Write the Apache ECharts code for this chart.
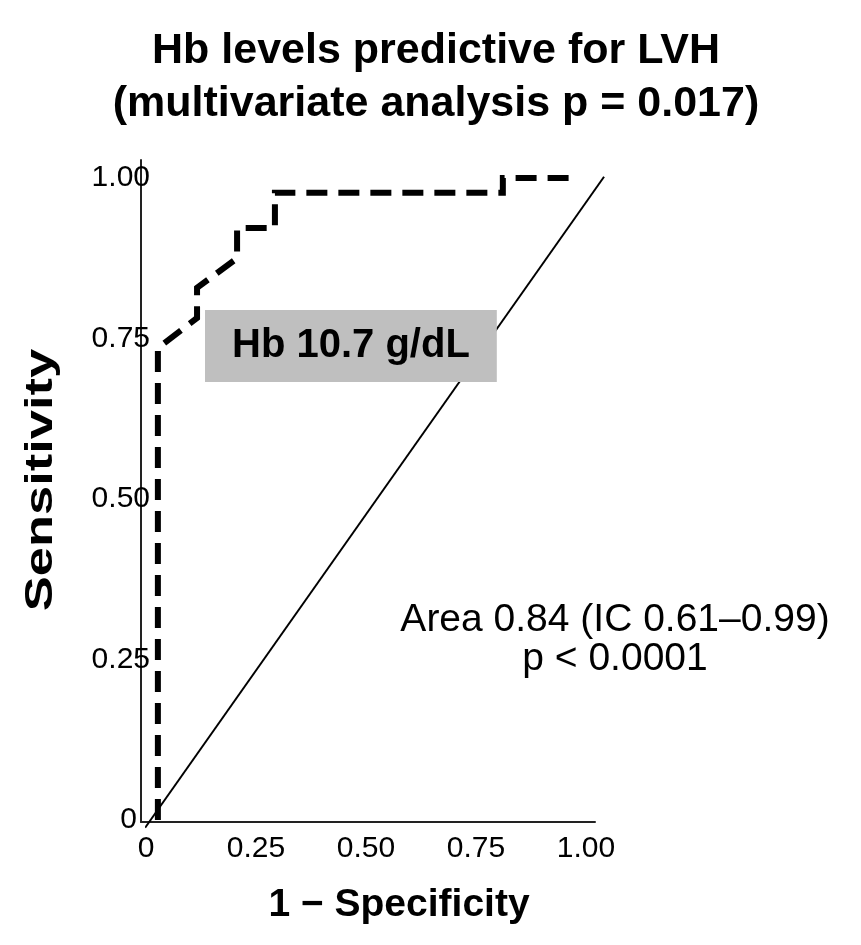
<!DOCTYPE html>
<html>
<head>
<meta charset="utf-8">
<title>Hb levels predictive for LVH</title>
<script src="https://cdn.jsdelivr.net/npm/echarts@6/dist/echarts.min.js"></script>
<style>
  html, body { margin: 0; padding: 0; background: #ffffff; }
  #chart { width: 861px; height: 945px; }
</style>
</head>
<body>
<div id="chart"></div>
<script>
// ROC curve: false positive rate (1 - specificity) vs sensitivity
const rocFpr = [0.027, 0.027, 0.116, 0.116, 0.207, 0.207, 0.293, 0.293, 0.811, 0.811, 0.975];
const rocTpr = [0.000, 0.735, 0.782, 0.829, 0.875, 0.922, 0.922, 0.977, 0.977, 1.000, 1.000];

// chance (reference) line
const refX = [-0.002, 1.041];
const refY = [-0.012, 1.002];

// tick labels
const xTickLabels = ['0', '0.25', '0.50', '0.75', '1.00'];
const yTickLabels = ['0', '0.25', '0.50', '0.75', '1.00'];

const FONT = "'Liberation Sans', Arial, Helvetica, sans-serif";

const chart = echarts.init(document.getElementById('chart'), null, { renderer: 'canvas' });

// label for a tick value, blank for anything that is not a quarter step within 0..1
const tickText = (labels, v) => {
  const i = Math.round(v / 0.25);
  return (Math.abs(v - i * 0.25) < 1e-6 && i >= 0 && i < labels.length) ? labels[i] : '';
};

chart.setOption({
  backgroundColor: '#ffffff',
  animation: false,
  title: [
    {
      text: 'Hb levels predictive for LVH\n(multivariate analysis p = 0.017)',
      left: 431, top: 20, textAlign: 'center',
      textStyle: { fontFamily: FONT, fontSize: 43, fontWeight: 'bold', color: '#000', lineHeight: 53 }
    },
    {
      text: 'Hb 10.7 g/dL',
      left: 205, top: 310,
      backgroundColor: '#bfbfbf',
      padding: [14, 27, 14, 27],
      textStyle: { fontFamily: FONT, fontSize: 40, fontWeight: 'bold', color: '#000', lineHeight: 44 }
    },
    {
      text: 'Area 0.84 (IC 0.61–0.99)\np < 0.0001',
      left: 610, top: 596, textAlign: 'center',
      textStyle: { fontFamily: FONT, fontSize: 39, fontWeight: 'normal', color: '#000', lineHeight: 39 }
    }
  ],
  graphic: [
    {
      // y-axis title, stretched along its length
      type: 'text', x: 42, y: 480, rotation: Math.PI / 2,
      scaleX: 1.38, scaleY: 1,
      style: {
        text: 'Sensitivity', fill: '#000',
        font: "bold 38px 'Liberation Sans', Arial, sans-serif",
        align: 'center', verticalAlign: 'middle'
      }
    }
  ],
  grid: [
    // data area: x 0..1.05, y 0..1
    { left: 146, right: 253, top: 178, bottom: 125, containLabel: false },
    // frame carrying the two axis lines
    { left: 141, right: 266, top: 160, bottom: 123, containLabel: false }
  ],
  xAxis: [
    {
      gridIndex: 0, type: 'value', min: 0, max: 1.05, interval: 0.25,
      name: '1 − Specificity', nameLocation: 'middle', nameGap: 66,
      nameTextStyle: { fontFamily: FONT, fontSize: 39, fontWeight: 'bold', color: '#000', padding: [0, 0, 0, 44] },
      axisLine: { show: false }, axisTick: { show: false }, splitLine: { show: false },
      axisLabel: {
        margin: 14, color: '#000', fontFamily: FONT, fontSize: 30, showMaxLabel: false,
        formatter: v => tickText(xTickLabels, v)
      }
    },
    {
      gridIndex: 1, type: 'value', min: 0, max: 1,
      axisLine: { show: true, lineStyle: { color: '#222', width: 2 } },
      axisTick: { show: false }, axisLabel: { show: false }, splitLine: { show: false }
    }
  ],
  yAxis: [
    {
      gridIndex: 0, type: 'value', min: 0, max: 1, interval: 0.25,
      axisLine: { show: false }, axisTick: { show: false }, splitLine: { show: false },
      axisLabel: {
        margin: -4, color: '#000', fontFamily: FONT, fontSize: 30,
        formatter: v => v === 0 ? '{z|' + yTickLabels[0] + '}' : tickText(yTickLabels, v),
        rich: { z: { fontFamily: FONT, fontSize: 30, color: '#000', padding: [0, 13, 0, 0] } }
      }
    },
    {
      gridIndex: 1, type: 'value', min: 0, max: 1,
      axisLine: { show: true, lineStyle: { color: '#222', width: 2 } },
      axisTick: { show: false }, axisLabel: { show: false }, splitLine: { show: false }
    }
  ],
  series: [
    {
      name: 'Reference', type: 'line', xAxisIndex: 0, yAxisIndex: 0,
      data: refX.map((x, i) => [x, refY[i]]),
      symbol: 'none', clip: false, silent: true,
      lineStyle: { color: '#000', width: 2 }
    },
    {
      name: 'ROC', type: 'line', xAxisIndex: 0, yAxisIndex: 0,
      data: rocFpr.map((x, i) => [x, rocTpr[i]]),
      symbol: 'none', clip: false, silent: true,
      lineStyle: { color: '#000', width: 6, type: [21, 11], cap: 'butt', join: 'miter' }
    }
  ]
});
</script>
</body>
</html>
